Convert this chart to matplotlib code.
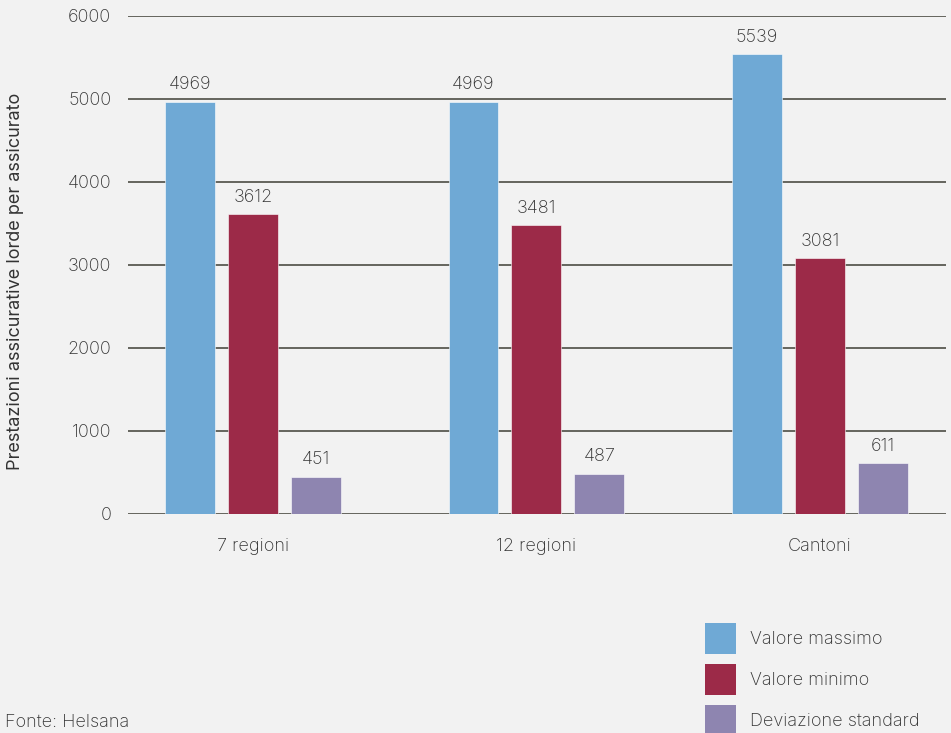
import matplotlib
matplotlib.use("Agg")
import matplotlib.pyplot as plt
from matplotlib.patches import Patch
import numpy as np

categories = ["7 regioni", "12 regioni", "Cantoni"]
series_names = ["Valore massimo", "Valore minimo", "Deviazione standard"]
valore_massimo = [4969, 4969, 5539]
valore_minimo = [3612, 3481, 3081]
deviazione_standard = [451, 487, 611]
y_ticks = [0, 1000, 2000, 3000, 4000, 5000, 6000]

colors = ["#6FA9D5", "#9C2A48", "#8E85B0"]
bg = "#F2F2F2"
text_col = "#333333"
grid_col = "#3F3F35"
FS = 13

plt.rcParams["font.family"] = ["Inter", "DejaVu Sans"]
plt.rcParams["font.weight"] = "light"

W, H = 951, 733
fig = plt.figure(figsize=(W / 100, H / 100), dpi=100, facecolor=bg)
ax = fig.add_axes([128 / W, 1 - 514 / H, (946 - 128) / W, (514 - 16) / H], facecolor=bg)

x = np.arange(len(categories))
width = 0.176
offset = 0.222
series = [valore_massimo, valore_minimo, deviazione_standard]
for i, (vals, name, col) in enumerate(zip(series, series_names, colors)):
    pos = x + (i - 1) * offset
    bars = ax.bar(pos, vals, width=width, color=col, edgecolor="white",
                  linewidth=0.4, zorder=3, label=name)
    for b, v in zip(bars, vals):
        ax.annotate(f"{v}", (b.get_x() + b.get_width() / 2, v),
                    xytext=(0, 6), textcoords="offset points",
                    ha="center", va="bottom", fontsize=FS, color=text_col)

ax.set_xlim(-0.44, 2.444)
ax.set_ylim(0, 6000)
ax.set_yticks(y_ticks)
ax.set_yticklabels([str(t) for t in y_ticks])
ax.set_xticks(x)
ax.set_xticklabels(categories)
ax.tick_params(axis="both", length=0, labelsize=FS, colors=text_col)
ax.tick_params(axis="x", pad=17)
ax.tick_params(axis="y", pad=12)
ax.yaxis.grid(True, color=grid_col, linewidth=1.1, zorder=1)
for s in ax.spines.values():
    s.set_visible(False)

ax.set_ylabel("Prestazioni assicurative lorde per assicurato", fontsize=FS,
              color=text_col)
ax.yaxis.set_label_coords(-0.1272, 0.468)

fs_px = FS * 100 / 72
hh = (31 / fs_px - 0.245) / 0.65
handles = [Patch(facecolor=c, edgecolor="none") for c in colors]
fig.legend(handles, series_names, loc="upper left",
           bbox_to_anchor=(705 / W, 1 - 623 / H), frameon=False,
           borderpad=0, borderaxespad=0, fontsize=FS,
           handlelength=31 / fs_px, handleheight=hh, handletextpad=14 / fs_px,
           labelspacing=10 / fs_px, labelcolor=text_col)

fig.text(5 / W, 1 - 722 / H, "Fonte: Helsana", fontsize=FS, color=text_col,
         ha="left", va="center")

fig.savefig("out.png", dpi=100, facecolor=bg)
